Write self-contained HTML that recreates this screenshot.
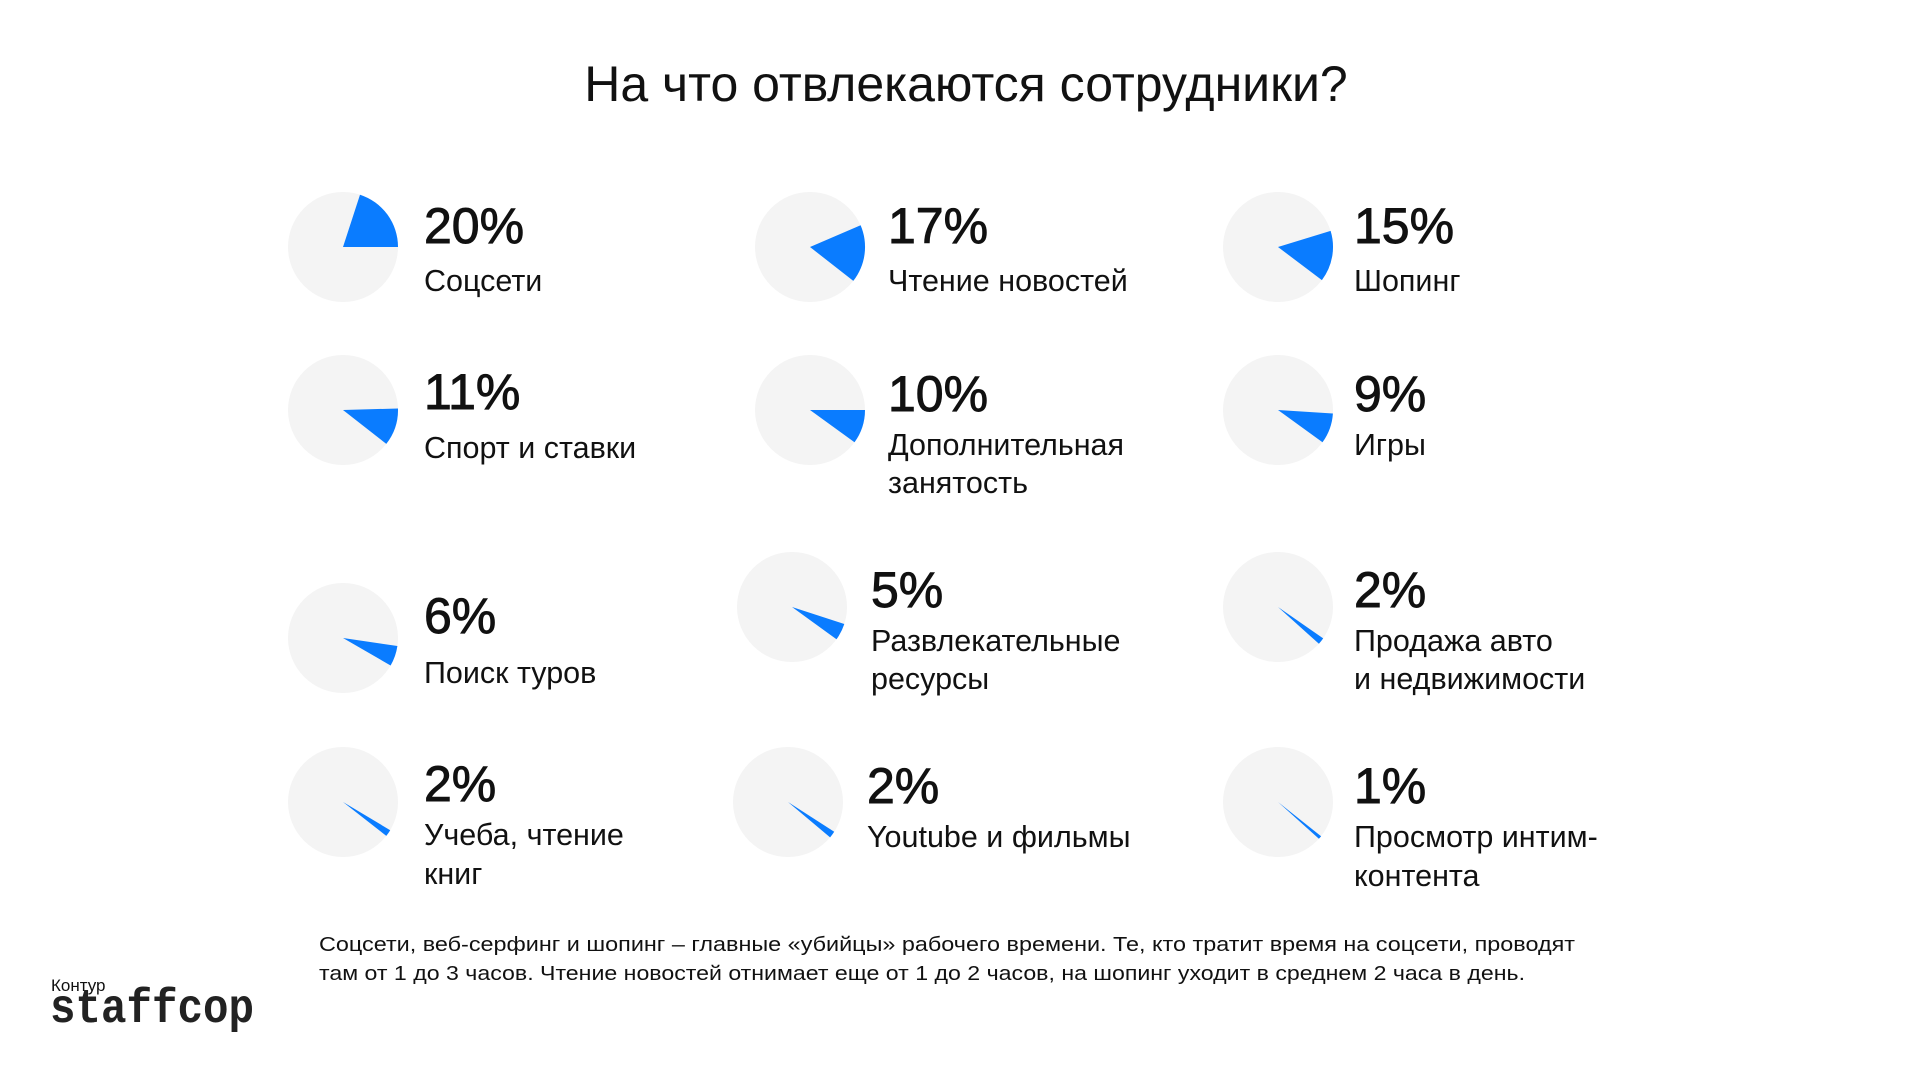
<!DOCTYPE html>
<html><head><meta charset="utf-8">
<style>
html,body{margin:0;padding:0;background:#fff;}
svg{display:block;}
text{font-family:"Liberation Sans","Noto Sans CJK SC",sans-serif;fill:#111;}
.p{font-size:50px;stroke:#111;stroke-width:0.9px;}
.l{font-size:30.5px;}
</style></head>
<body>
<svg id="s" width="1920" height="1080" viewBox="0 0 1920 1080" xmlns="http://www.w3.org/2000/svg">
<text x="966" y="101" text-anchor="middle" style="font-size:50px">На что отвлекаются сотрудники?</text>
<g id="pies"></g>
<g transform="translate(0,-3)">
<text class="p" x="424" y="246">20%</text><text class="l" x="424" y="294">Соцсети</text>
<text class="p" x="888" y="246">17%</text><text class="l" x="888" y="294">Чтение новостей</text>
<text class="p" x="1354" y="246">15%</text><text class="l" x="1354" y="294">Шопинг</text>

<text class="p" x="424" y="412">11%</text><text class="l" x="424" y="461">Спорт и ставки</text>
<text class="p" x="888" y="414">10%</text><text class="l" x="888" y="458">Дополнительная</text><text class="l" x="888" y="496">занятость</text>
<text class="p" x="1354" y="414">9%</text><text class="l" x="1354" y="458">Игры</text>

<text class="p" x="424" y="636">6%</text><text class="l" x="424" y="686">Поиск туров</text>
<text class="p" x="871" y="610">5%</text><text class="l" x="871" y="654">Развлекательные</text><text class="l" x="871" y="692">ресурсы</text>
<text class="p" x="1354" y="610">2%</text><text class="l" x="1354" y="654">Продажа авто</text><text class="l" x="1354" y="692">и недвижимости</text>

<text class="p" x="424" y="804">2%</text><text class="l" x="424" y="848">Учеба, чтение</text><text class="l" x="424" y="887">книг</text>
<text class="p" x="867" y="806">2%</text><text class="l" x="867" y="850">Youtube и фильмы</text>
<text class="p" x="1354" y="806">1%</text><text class="l" x="1354" y="850">Просмотр интим-</text><text class="l" x="1354" y="889">контента</text>
</g>
<text x="319" y="951" style="font-size:20px" textLength="1256" lengthAdjust="spacingAndGlyphs">Соцсети, веб-серфинг и шопинг – главные «убийцы» рабочего времени. Те, кто тратит время на соцсети, проводят</text>
<text x="319" y="980" style="font-size:20px" textLength="1206" lengthAdjust="spacingAndGlyphs">там от 1 до 3 часов. Чтение новостей отнимает еще от 1 до 2 часов, на шопинг уходит в среднем 2 часа в день.</text>

<text x="51" y="991" style="font-size:17px">Контур</text>
<text x="50" y="1022" style="font-family:'Liberation Mono',monospace;font-size:48px;font-weight:bold;fill:#222" textLength="204" lengthAdjust="spacingAndGlyphs">staffcop</text>
</svg>
<script>
var pies=[[343,247,20,0],[810,247,17,-38],[1278,247,15,-37],
[343,410,11,-38],[810,410,10,-36],[1278,410,9,-36],
[343,638,6,-30],[792,607,5,-36],[1278,607,2,-42],
[343,802,2,-38],[788,802,2,-40],[1278,802,1,-42]];
var r=55,h='';
pies.forEach(function(p){
 var cx=p[0],cy=p[1],e=p[3],s=e+p[2]*3.6;
 var a1=s*Math.PI/180,a2=e*Math.PI/180;
 var x1=cx+r*Math.cos(a1),y1=cy-r*Math.sin(a1),x2=cx+r*Math.cos(a2),y2=cy-r*Math.sin(a2);
 h+='<circle cx="'+cx+'" cy="'+cy+'" r="'+r+'" fill="#f4f4f4"/>';
 h+='<path d="M'+cx+' '+cy+' L'+x1.toFixed(1)+' '+y1.toFixed(1)+' A'+r+' '+r+' 0 0 1 '+x2.toFixed(1)+' '+y2.toFixed(1)+' Z" fill="#0a7cff"/>';
});
document.getElementById('pies').innerHTML=h;
</script>
</body></html>
